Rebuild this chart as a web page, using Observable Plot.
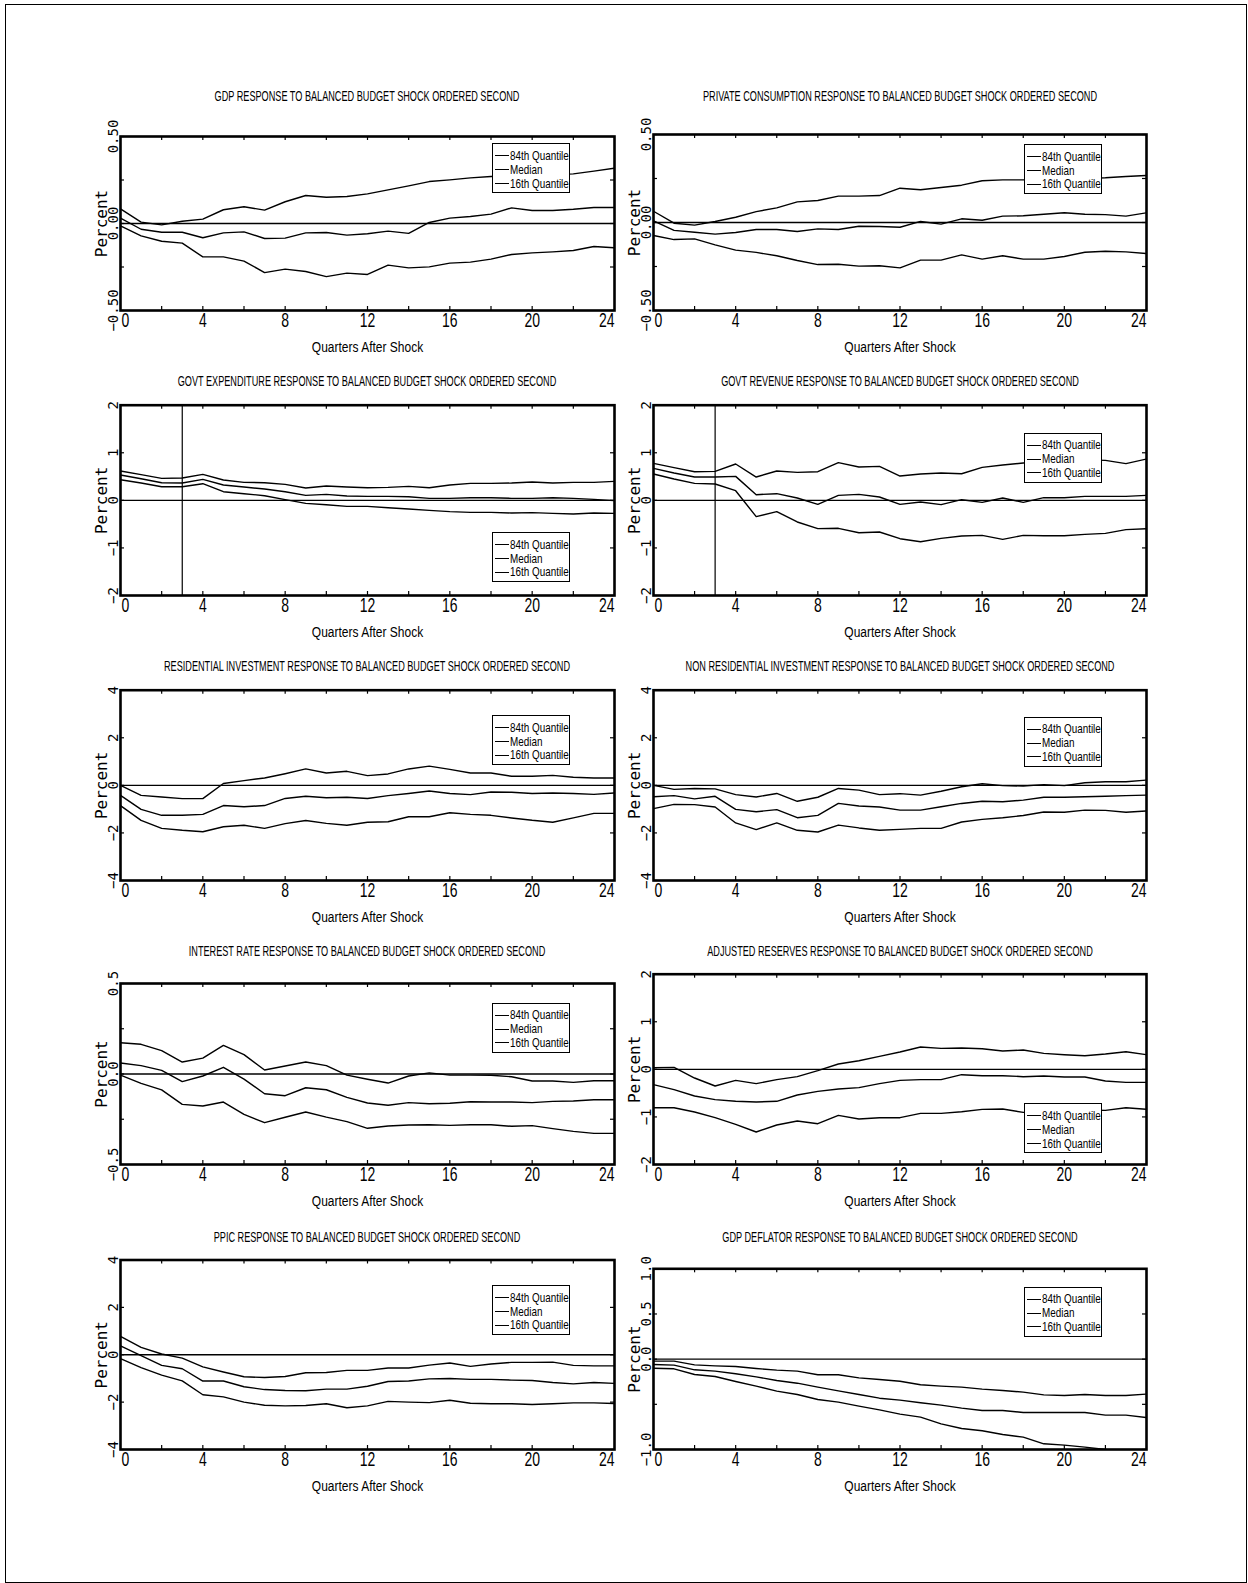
<!DOCTYPE html>
<html><head><meta charset="utf-8">
<script src="https://cdn.jsdelivr.net/npm/d3@7"></script>
<script src="https://cdn.jsdelivr.net/npm/@observablehq/plot@0.6"></script>
<style>
body{margin:0;background:#fff;}
#page{position:relative;width:1248px;height:1583px;overflow:hidden;background:#fff;}
#border{position:absolute;left:5px;top:4px;width:1242px;height:1579px;border:1px solid #000;box-sizing:border-box;}
.panel{position:absolute;}
.panel svg{display:block;overflow:visible;}
.title{position:absolute;font-family:"Liberation Sans",Arial,sans-serif;font-size:14.5px;white-space:nowrap;transform:translate(-50%,-50%) scaleX(0.63);color:#000;}
.legend{position:absolute;width:78px;height:50px;border:1px solid #000;background:#fff;box-sizing:border-box;font-family:"Liberation Sans",Arial,sans-serif;font-size:13px;color:#000;}
.legend .row{position:absolute;left:2px;height:14px;line-height:14px;display:flex;align-items:center;white-space:nowrap;}
.legend .seg{display:inline-block;width:14px;border-top:1.3px solid #000;margin-right:1px;}
.legend .lab{display:inline-block;transform:scaleX(0.76);transform-origin:0 50%;}
</style></head>
<body><div id="page"><div id="border"></div></div>
<script>
// ---------- data ----------
const quarters = [0,1,2,3,4,5,6,7,8,9,10,11,12,13,14,15,16,17,18,19,20,21,22,23,24];
const xLabelTicks = [0,4,8,12,16,20,24];
const xInnerTicks = [2,4,6,8,10,12,14,16,18,20,22];
const legendLabels = ["84th Quantile","Median","16th Quantile"];
const xAxisLabel = "Quarters After Shock";
const yAxisLabel = "Percent";

const titles = [
  "GDP RESPONSE TO BALANCED BUDGET SHOCK ORDERED SECOND",
  "PRIVATE CONSUMPTION RESPONSE TO BALANCED BUDGET SHOCK ORDERED SECOND",
  "GOVT EXPENDITURE RESPONSE TO BALANCED BUDGET SHOCK ORDERED SECOND",
  "GOVT REVENUE RESPONSE TO BALANCED BUDGET SHOCK ORDERED SECOND",
  "RESIDENTIAL INVESTMENT RESPONSE TO BALANCED BUDGET SHOCK ORDERED SECOND",
  "NON RESIDENTIAL INVESTMENT RESPONSE TO BALANCED BUDGET SHOCK ORDERED SECOND",
  "INTEREST RATE RESPONSE TO BALANCED BUDGET SHOCK ORDERED SECOND",
  "ADJUSTED RESERVES RESPONSE TO BALANCED BUDGET SHOCK ORDERED SECOND",
  "PPIC RESPONSE TO BALANCED BUDGET SHOCK ORDERED SECOND",
  "GDP DEFLATOR RESPONSE TO BALANCED BUDGET SHOCK ORDERED SECOND"
];

const gdpHi  = [0.084,0.008,-0.008,0.013,0.025,0.079,0.096,0.077,0.125,0.161,0.151,0.155,0.170,0.193,0.216,0.241,0.251,0.262,0.270,0.274,0.278,0.280,0.285,0.301,0.318];
const gdpMed = [0.031,-0.033,-0.050,-0.050,-0.082,-0.054,-0.048,-0.086,-0.084,-0.054,-0.052,-0.067,-0.059,-0.044,-0.057,0.006,0.031,0.040,0.054,0.090,0.075,0.075,0.082,0.092,0.092];
const gdpLo  = [-0.013,-0.071,-0.102,-0.113,-0.192,-0.192,-0.216,-0.282,-0.262,-0.276,-0.305,-0.285,-0.293,-0.239,-0.255,-0.249,-0.228,-0.222,-0.205,-0.178,-0.169,-0.163,-0.155,-0.132,-0.140];

const pcHi  = [0.064,-0.004,-0.015,0.006,0.030,0.062,0.083,0.117,0.125,0.150,0.150,0.153,0.195,0.186,0.199,0.212,0.237,0.242,0.242,0.246,0.246,0.250,0.254,0.261,0.267];
const pcMed = [0.009,-0.045,-0.055,-0.066,-0.057,-0.040,-0.040,-0.051,-0.036,-0.040,-0.021,-0.023,-0.027,0.006,-0.009,0.021,0.013,0.036,0.038,0.047,0.055,0.047,0.045,0.036,0.055];
const pcLo  = [-0.074,-0.097,-0.093,-0.127,-0.157,-0.170,-0.189,-0.216,-0.239,-0.237,-0.248,-0.246,-0.258,-0.214,-0.214,-0.184,-0.208,-0.189,-0.208,-0.208,-0.193,-0.169,-0.163,-0.167,-0.176];

const geHi  = [0.616,0.54,0.462,0.469,0.546,0.427,0.378,0.371,0.336,0.259,0.301,0.280,0.266,0.273,0.294,0.266,0.322,0.357,0.357,0.364,0.385,0.364,0.378,0.378,0.399];
const geMed = [0.532,0.455,0.371,0.364,0.441,0.322,0.280,0.238,0.182,0.105,0.126,0.091,0.084,0.084,0.077,0.042,0.042,0.056,0.056,0.042,0.042,0.056,0.042,0.021,-0.007];
const geLo  = [0.434,0.364,0.287,0.287,0.350,0.182,0.140,0.098,0.014,-0.063,-0.091,-0.126,-0.126,-0.154,-0.182,-0.210,-0.238,-0.252,-0.252,-0.266,-0.259,-0.273,-0.287,-0.266,-0.273];

const grHi  = [0.778,0.687,0.602,0.609,0.764,0.490,0.616,0.588,0.602,0.792,0.701,0.715,0.511,0.553,0.574,0.560,0.694,0.743,0.785,0.81,0.84,0.85,0.84,0.771,0.869];
const grMed = [0.672,0.574,0.490,0.490,0.504,0.119,0.140,0.049,-0.084,0.105,0.126,0.070,-0.084,-0.035,-0.091,0.014,-0.042,0.049,-0.042,0.056,0.056,0.084,0.084,0.084,0.105];
const grLo  = [0.553,0.448,0.357,0.343,0.203,-0.343,-0.238,-0.455,-0.595,-0.588,-0.680,-0.665,-0.806,-0.869,-0.799,-0.750,-0.736,-0.820,-0.736,-0.743,-0.743,-0.715,-0.694,-0.616,-0.595];

const riHi  = [0,-0.42,-0.49,-0.56,-0.56,0.08,0.20,0.31,0.49,0.69,0.52,0.59,0.41,0.48,0.69,0.81,0.67,0.52,0.52,0.38,0.38,0.42,0.34,0.31,0.31];
const riMed = [-0.42,-1.01,-1.26,-1.26,-1.22,-0.85,-0.90,-0.85,-0.55,-0.46,-0.52,-0.50,-0.55,-0.43,-0.34,-0.24,-0.34,-0.39,-0.28,-0.29,-0.34,-0.32,-0.34,-0.38,-0.32];
const riLo  = [-0.85,-1.47,-1.81,-1.89,-1.95,-1.74,-1.68,-1.81,-1.61,-1.48,-1.60,-1.68,-1.55,-1.53,-1.32,-1.32,-1.15,-1.22,-1.26,-1.37,-1.47,-1.55,-1.37,-1.18,-1.18];

const nrHi  = [0,-0.17,-0.13,-0.15,-0.39,-0.49,-0.34,-0.67,-0.50,-0.13,-0.20,-0.39,-0.35,-0.41,-0.25,-0.06,0.07,-0.01,-0.03,0.03,-0.01,0.11,0.15,0.15,0.22];
const nrMed = [-0.48,-0.43,-0.57,-0.46,-1.01,-1.11,-1.02,-1.36,-1.26,-0.76,-0.87,-0.91,-1.04,-1.04,-0.90,-0.76,-0.67,-0.69,-0.62,-0.50,-0.50,-0.48,-0.46,-0.43,-0.41];
const nrLo  = [-0.98,-0.80,-0.81,-0.91,-1.58,-1.86,-1.58,-1.89,-1.96,-1.67,-1.79,-1.89,-1.85,-1.81,-1.81,-1.54,-1.43,-1.36,-1.27,-1.12,-1.13,-1.04,-1.05,-1.13,-1.08];

const irHi  = [0.173,0.164,0.129,0.066,0.088,0.158,0.107,0.022,0.044,0.066,0.046,-0.006,-0.029,-0.050,-0.011,0.006,-0.006,-0.006,-0.007,-0.015,-0.039,-0.039,-0.046,-0.037,-0.037];
const irMed = [0.061,0.046,0.020,-0.042,-0.011,0.037,-0.028,-0.109,-0.120,-0.076,-0.087,-0.129,-0.160,-0.173,-0.158,-0.164,-0.162,-0.153,-0.155,-0.155,-0.158,-0.151,-0.149,-0.142,-0.142];
const irLo  = [-0.006,-0.052,-0.088,-0.168,-0.177,-0.155,-0.223,-0.269,-0.239,-0.210,-0.238,-0.263,-0.300,-0.287,-0.282,-0.280,-0.284,-0.280,-0.280,-0.289,-0.285,-0.302,-0.317,-0.328,-0.328];

const arHi  = [0.035,0.042,-0.182,-0.350,-0.231,-0.301,-0.217,-0.154,-0.028,0.112,0.182,0.273,0.364,0.469,0.441,0.448,0.434,0.385,0.406,0.336,0.308,0.287,0.322,0.371,0.308];
const arMed = [-0.322,-0.427,-0.560,-0.637,-0.672,-0.686,-0.672,-0.539,-0.462,-0.413,-0.385,-0.301,-0.231,-0.217,-0.217,-0.112,-0.133,-0.133,-0.154,-0.140,-0.161,-0.161,-0.245,-0.273,-0.273];
const arLo  = [-0.806,-0.806,-0.897,-1.016,-1.156,-1.317,-1.170,-1.086,-1.142,-0.967,-1.044,-1.016,-1.016,-0.925,-0.925,-0.890,-0.841,-0.834,-0.904,-0.883,-0.870,-0.855,-0.862,-0.806,-0.841];

const ppHi  = [0.78,0.31,0.03,-0.14,-0.51,-0.73,-0.93,-0.96,-0.92,-0.76,-0.75,-0.66,-0.66,-0.56,-0.56,-0.44,-0.35,-0.49,-0.39,-0.32,-0.32,-0.31,-0.45,-0.47,-0.47];
const ppMed = [0.37,-0.04,-0.45,-0.59,-1.11,-1.11,-1.35,-1.47,-1.51,-1.52,-1.45,-1.45,-1.33,-1.13,-1.11,-1.02,-1.00,-1.04,-1.04,-1.07,-1.09,-1.17,-1.23,-1.17,-1.21];
const ppLo  = [-0.16,-0.54,-0.86,-1.10,-1.69,-1.78,-2.00,-2.13,-2.16,-2.14,-2.07,-2.24,-2.16,-1.97,-2.00,-2.02,-1.92,-2.05,-2.07,-2.07,-2.10,-2.07,-2.03,-2.03,-2.06];

const dfHi  = [-0.022,-0.022,-0.063,-0.074,-0.081,-0.103,-0.122,-0.133,-0.173,-0.173,-0.207,-0.225,-0.244,-0.284,-0.299,-0.310,-0.332,-0.347,-0.365,-0.395,-0.402,-0.391,-0.402,-0.402,-0.387];
const dfMed = [-0.059,-0.066,-0.118,-0.133,-0.162,-0.196,-0.236,-0.266,-0.310,-0.351,-0.391,-0.432,-0.454,-0.483,-0.509,-0.542,-0.568,-0.568,-0.590,-0.590,-0.590,-0.590,-0.620,-0.620,-0.646];
const dfLo  = [-0.100,-0.107,-0.170,-0.192,-0.247,-0.299,-0.354,-0.391,-0.446,-0.476,-0.520,-0.561,-0.609,-0.642,-0.716,-0.768,-0.793,-0.834,-0.863,-0.937,-0.952,-0.974,-1.00,-1.03,-1.06];

// y-axis ticks and labels
const ticksHalf = [-0.5,-0.25,0,0.25,0.5];
const ticksTwo = [-2,-1,0,1,2];
const ticksFour = [-4,-2,0,2,4];
const ticksOne = [-1,-0.5,0,0.5,1];
const labelsHalf2 = [{v:0.5,t:"0.50"},{v:0,t:"0.00"},{v:-0.5,t:"\u22120.50"}];
const labelsHalf1 = [{v:0.5,t:"0.5"},{v:0,t:"0.0"},{v:-0.5,t:"\u22120.5"}];
const labelsTwo = [{v:2,t:"2"},{v:1,t:"1"},{v:0,t:"0"},{v:-1,t:"\u22121"},{v:-2,t:"\u22122"}];
const labelsFour = [{v:4,t:"4"},{v:2,t:"2"},{v:0,t:"0"},{v:-2,t:"\u22122"},{v:-4,t:"\u22124"}];
const labelsOne = [{v:1,t:"1.0"},{v:0.5,t:"0.5"},{v:0,t:"0.0"},{v:-1,t:"\u22121.0"}];

const shockQuarter = 3;

// ---------- layout ----------
const panels = [
  {hi:gdpHi,med:gdpMed,lo:gdpLo,dom:[-0.5,0.5],ticks:ticksHalf,labels:labelsHalf2,fh:174,leg:143.3},
  {hi:pcHi,med:pcMed,lo:pcLo,dom:[-0.5,0.5],ticks:ticksHalf,labels:labelsHalf2,fh:176,leg:144},
  {hi:geHi,med:geMed,lo:geLo,dom:[-2,2],ticks:ticksTwo,labels:labelsTwo,fh:190.3,leg:532,vline:true},
  {hi:grHi,med:grMed,lo:grLo,dom:[-2,2],ticks:ticksTwo,labels:labelsTwo,fh:190.3,leg:432.7,vline:true},
  {hi:riHi,med:riMed,lo:riLo,dom:[-4,4],ticks:ticksFour,labels:labelsFour,fh:190.3,leg:715},
  {hi:nrHi,med:nrMed,lo:nrLo,dom:[-4,4],ticks:ticksFour,labels:labelsFour,fh:190.3,leg:716.7},
  {hi:irHi,med:irMed,lo:irLo,dom:[-0.5,0.5],ticks:ticksHalf,labels:labelsHalf1,fh:181,leg:1002.7},
  {hi:arHi,med:arMed,lo:arLo,dom:[-2,2],ticks:ticksTwo,labels:labelsTwo,fh:190.3,leg:1103.3},
  {hi:ppHi,med:ppMed,lo:ppLo,dom:[-4,4],ticks:ticksFour,labels:labelsFour,fh:189.5,leg:1285},
  {hi:dfHi,med:dfMed,lo:dfLo,dom:[-1,1],ticks:ticksOne,labels:labelsOne,fh:180.7,leg:1286.7}
];

const sans = '"Liberation Sans",Arial,sans-serif';
const mono = '"DejaVu Sans Mono","Liberation Mono",monospace';
const page = document.getElementById("page");
const W = 580, H = 290, MB = 50;
const condenseBySize = {"20": 0.70, "15": 0.80};

function condense(svg) {
  svg.querySelectorAll("g").forEach(g => {
    const ff = g.getAttribute("font-family");
    const fs = g.getAttribute("font-size");
    if (!ff || ff !== sans || !(fs in condenseBySize)) return;
    const s = condenseBySize[fs];
    g.querySelectorAll("text").forEach(t => {
      const tr = t.getAttribute("transform") || "";
      t.setAttribute("transform", tr + ` scale(${s},1)`);
    });
  });
}

panels.forEach((p, i) => {
  const col = i % 2, row = Math.floor(i / 2);
  const svgLeft = col === 0 ? 60 : 593;
  const ml = 60, mr = col === 0 ? 26 : 27;
  const frameBottom = 310 + 284.8 * row;
  const svgTop = frameBottom - (H - MB);
  const mt = H - MB - p.fh;
  const fw = W - ml - mr;
  const data = quarters.map((q, k) => ({q, hi: p.hi[k], med: p.med[k], lo: p.lo[k]}));
  const lineOpts = {x: "q", stroke: "#000", strokeWidth: 1.4, clip: true};
  const tickOpts = {stroke: "#000", strokeWidth: 1.2};
  const xt = {x: d => d, text: d => String(d), frameAnchor: "bottom", dy: 10, lineAnchor: "middle", fontFamily: sans, fontSize: 20, fill: "#000"};
  const marks = [
    Plot.ruleY([0], {stroke: "#000", strokeWidth: 1.4}),
    p.vline ? Plot.ruleX([shockQuarter], {stroke: "#000", strokeWidth: 1.2}) : null,
    Plot.line(data, {...lineOpts, y: "hi"}),
    Plot.line(data, {...lineOpts, y: "med"}),
    Plot.line(data, {...lineOpts, y: "lo"}),
    // inner ticks
    Plot.tickX(xInnerTicks, {x: d => d, insetTop: p.fh - 4, ...tickOpts}),
    Plot.tickX(xInnerTicks, {x: d => d, insetBottom: p.fh - 4, ...tickOpts}),
    Plot.tickY(p.ticks, {y: d => d, insetLeft: fw - 4, ...tickOpts}),
    Plot.tickY(p.ticks, {y: d => d, insetRight: fw - 4, ...tickOpts}),
    Plot.frame({stroke: "#000", strokeWidth: 2.6}),
    // x tick labels
    Plot.text(xLabelTicks.filter(d => d === 0), {...xt, textAnchor: "start", dx: 1}),
    Plot.text(xLabelTicks.filter(d => d > 0 && d < 24), {...xt, textAnchor: "middle"}),
    Plot.text(xLabelTicks.filter(d => d === 24), {...xt, textAnchor: "end"}),
    Plot.text([xAxisLabel], {frameAnchor: "bottom", dy: 36.7, lineAnchor: "middle", textAnchor: "middle", fontFamily: sans, fontSize: 15, fill: "#000"}),
    // y tick labels
    Plot.text(p.labels, {y: "v", text: "t", frameAnchor: "left", dx: -6.5, rotate: -90, textAnchor: "middle", lineAnchor: "middle", fontFamily: mono, fontSize: 14, fill: "#000"}),
    Plot.text([yAxisLabel], {frameAnchor: "left", dx: -19, rotate: -90, textAnchor: "middle", lineAnchor: "middle", fontFamily: mono, fontSize: 16, fill: "#000"})
  ];
  const plot = Plot.plot({
    width: W, height: H,
    marginLeft: ml, marginRight: mr, marginTop: mt, marginBottom: MB,
    x: {domain: [0, 24], axis: null},
    y: {domain: p.dom, axis: null},
    style: {background: "transparent", overflow: "visible"},
    marks
  });
  condense(plot);
  const wrap = document.createElement("div");
  wrap.className = "panel";
  wrap.style.left = svgLeft + "px";
  wrap.style.top = svgTop + "px";
  wrap.appendChild(plot);
  page.appendChild(wrap);

  // title
  const t = document.createElement("div");
  t.className = "title";
  t.textContent = titles[i];
  t.style.left = (svgLeft + ml + fw / 2) + "px";
  t.style.top = (95.5 + 285.3 * row) + "px";
  page.appendChild(t);

  // legend
  const lg = document.createElement("div");
  lg.className = "legend";
  lg.style.left = (svgLeft + ml + fw - 122) + "px";
  lg.style.top = p.leg + "px";
  legendLabels.forEach((name, k) => {
    const r = document.createElement("div");
    r.className = "row";
    r.style.top = (4.7 + 13.8 * k) + "px";
    const seg = document.createElement("span");
    seg.className = "seg";
    const lab = document.createElement("span");
    lab.className = "lab";
    lab.textContent = name;
    r.appendChild(seg);
    r.appendChild(lab);
    lg.appendChild(r);
  });
  page.appendChild(lg);
});
</script>
</body></html>
